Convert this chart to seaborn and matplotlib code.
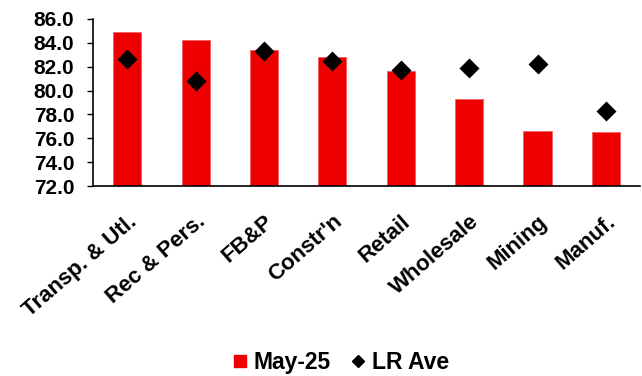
import matplotlib
matplotlib.use("Agg")
import matplotlib.pyplot as plt
import matplotlib.transforms as mtransforms
from matplotlib.lines import Line2D
import seaborn as sns
import pandas as pd

sectors = ["Transp. & Utl.", "Rec & Pers.", "FB&P", "Constr'n", "Retail",
           "Wholesale", "Mining", "Manuf."]
may25 = [84.9, 84.2, 83.4, 82.8, 81.6, 79.3, 76.6, 76.5]
lr_ave = [82.6, 80.8, 83.3, 82.5, 81.7, 81.9, 82.2, 78.3]
yticks = [72.0, 74.0, 76.0, 78.0, 80.0, 82.0, 84.0, 86.0]

df = pd.DataFrame({"sector": sectors, "May-25": may25, "LR Ave": lr_ave})

sns.set_theme(style="white")
plt.rcParams["font.family"] = ["Liberation Sans", "DejaVu Sans"]
plt.rcParams["font.weight"] = "bold"
plt.rcParams["text.color"] = "black"
plt.rcParams["xtick.color"] = "black"
plt.rcParams["ytick.color"] = "black"

bar_color = "#EE0000"

fig = plt.figure(figsize=(6.42, 3.76), dpi=100)
ax = fig.add_axes([0.145, 0.505, 0.852, 0.445])

sns.barplot(data=df, x="sector", y="May-25", color=bar_color, width=0.41,
            saturation=1, edgecolor="#F26060", linewidth=0.6, ax=ax)
sns.pointplot(data=df, x="sector", y="LR Ave", color="black", markers="D",
              linestyle="none", markersize=8.5, ax=ax)

ax.set_ylim(72, 86)
ax.set_yticks(yticks)
ax.set_yticklabels([f"{v:.1f}" for v in yticks], fontsize=15,
                   fontweight="bold", color="black")
ax.set_xlabel("")
ax.set_ylabel("")

shift = mtransforms.ScaledTranslation(-6 / 100, 0, fig.dpi_scale_trans)
for lbl in ax.get_xticklabels():
    lbl.set_rotation(41)
    lbl.set_ha("right")
    lbl.set_rotation_mode("anchor")
    lbl.set_fontsize(16)
    lbl.set_fontweight("bold")
    lbl.set_color("black")
    lbl.set_transform(lbl.get_transform() + shift)

ax.tick_params(axis="y", direction="out", length=4, width=1, color="black",
               pad=9.5, left=True)
ax.tick_params(axis="x", length=0, pad=18)

for side in ["top", "right"]:
    ax.spines[side].set_visible(False)
for side in ["left", "bottom"]:
    ax.spines[side].set_color("black")
    ax.spines[side].set_linewidth(1.2)

handles = [
    Line2D([], [], marker="s", linestyle="none", color=bar_color, markersize=8),
    Line2D([], [], marker="D", linestyle="none", color="black", markersize=6.5),
]
fig.legend(handles, ["May-25", "LR Ave"], loc="center", ncol=2,
           bbox_to_anchor=(0.528, 0.037), frameon=False, handletextpad=0.15,
           columnspacing=0.75, handlelength=0.9,
           prop={"weight": "bold", "size": 16.5})

fig.savefig("out.png", dpi=100)
